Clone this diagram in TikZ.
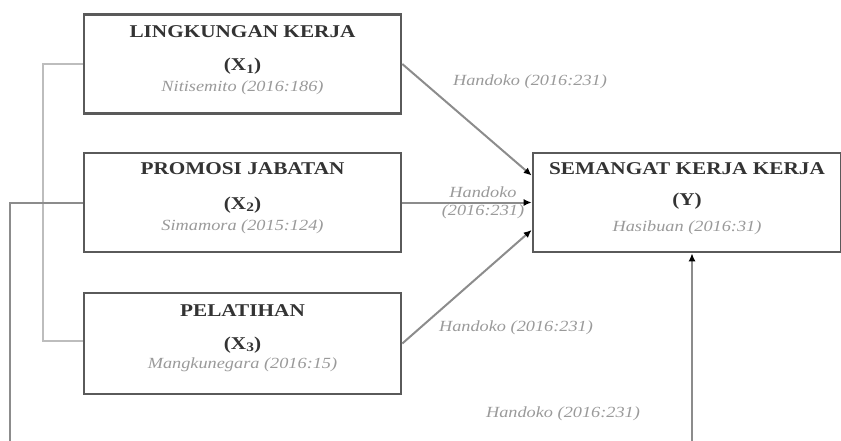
\documentclass[tikz,border=0pt]{standalone}
\usepackage{fontspec}
\setmainfont[FakeStretch=1.18]{Liberation Serif}
\usetikzlibrary{arrows.meta,calc}
\definecolor{boxline}{HTML}{5A5A5A}
\definecolor{conn}{HTML}{8C8C8C}
\definecolor{bracket}{HTML}{BDBDBD}
\definecolor{cite}{HTML}{9A9A9A}
\definecolor{ttl}{HTML}{333333}
\newcommand{\vsub}[1]{\raisebox{-2.5pt}{\fontsize{13}{14}\selectfont #1}}
\tikzset{
  varbox/.style={draw=boxline,line width=2.6pt,fill=white,minimum height=99pt,inner sep=0pt},
  ttltext/.style={font=\fontsize{18}{20}\selectfont\bfseries,text=ttl,inner sep=0pt},
  citetext/.style={font=\fontsize{15.5}{17}\selectfont\itshape,text=cite,inner sep=0pt},
  lbltext/.style={font=\fontsize{15.5}{17}\selectfont\itshape,text=cite,inner sep=0pt,align=center},
  conline/.style={draw=conn,line width=2pt,-{Latex[length=8pt,width=7pt,color=black]}},
  plainline/.style={draw=conn,line width=2pt},
  brline/.style={draw=bracket,line width=2pt}
}
\begin{document}
\begin{tikzpicture}[x=1pt,y=-1pt]
\useasboundingbox (0,0) rectangle (841,440);
\clip (0,0) rectangle (841,440);
% boxes
\node[varbox,minimum width=317pt,minimum height=99pt] (x1) at (242.5,64) {};
\node[varbox,minimum width=317pt,minimum height=99pt] (x2) at (242.5,202.5) {};
\node[varbox,minimum width=317pt,minimum height=101pt] (x3) at (242.5,343.5) {};
\node[varbox,minimum width=308pt,minimum height=99pt] (y) at (687,202.5) {};
% box texts
\node[ttltext] (x1t) at ($(x1.north)+(0,18)$) {LINGKUNGAN KERJA};
\node[ttltext] (x1v) at ($(x1.north)+(0,53)$) {(X\vsub{1})};
\node[citetext] (x1c) at ($(x1.north)+(0,75)$) {Nitisemito (2016:186)};
\node[ttltext] (x2t) at ($(x2.north)+(0,17)$) {PROMOSI JABATAN};
\node[ttltext] (x2v) at ($(x2.north)+(0,53)$) {(X\vsub{2})};
\node[citetext] (x2c) at ($(x2.north)+(0,75)$) {Simamora (2015:124)};
\node[ttltext] (x3t) at ($(x3.north)+(0,19)$) {PELATIHAN};
\node[ttltext] (x3v) at ($(x3.north)+(0,53)$) {(X\vsub{3})};
\node[citetext] (x3c) at ($(x3.north)+(0,73)$) {Mangkunegara (2016:15)};
\node[ttltext] (yt) at ($(y.north)+(0,17)$) {SEMANGAT KERJA KERJA};
\node[ttltext] (yv) at ($(y.north)+(0,49)$) {(Y)};
\node[citetext] (yc) at ($(y.north)+(0,76)$) {Hasibuan (2016:31)};
% connector targets
\coordinate (ya) at ($(y.north west)!0.235!(y.south west)$);
\coordinate (yb) at ($(y.north west)!0.77!(y.south west)$);
\coordinate (ybot) at (692,460);
\coordinate (lbot) at (10,460);
% connectors
\draw[conline] (x1.east) -- (ya);
\draw[conline] (x2.east) -- (y.west);
\draw[conline] (x3.east) -- (yb);
\draw[brline] (x1.west) -- ++(-40,0) |- ($(x3.west)+(0,-3)$);
\draw[plainline] (x2.west) -| (lbot) -- (ybot);
\draw[conline] (ybot) -- (ybot |- y.south);
% labels
\node[lbltext] (l1) at (530,82) {Handoko (2016:231)};
\node[lbltext] (l2a) at (483,192) {Handoko};
\node[lbltext] (l2b) at (483,212) {(2016:231)};
\node[lbltext] (l3) at (516,328) {Handoko (2016:231)};
\node[lbltext] (l4) at (563,414) {Handoko (2016:231)};
\end{tikzpicture}
\end{document}
